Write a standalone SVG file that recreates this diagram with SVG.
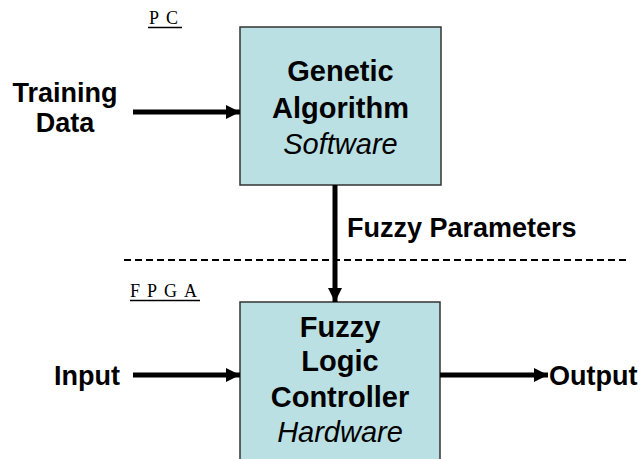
<svg xmlns="http://www.w3.org/2000/svg" width="642" height="459" viewBox="0 0 642 459">
  <style>
    .box { fill: #bbe0e3; stroke: #333333; stroke-width: 1.5; }
    .title { font-family: "Liberation Sans", Arial, sans-serif; font-size: 29px; font-weight: bold; fill: #000; text-anchor: middle; }
    .sub { font-family: "Liberation Sans", Arial, sans-serif; font-size: 29px; font-style: italic; fill: #000; text-anchor: middle; }
    .label { font-family: "Liberation Sans", Arial, sans-serif; font-size: 27px; font-weight: bold; fill: #000; }
    .zone { font-family: "Liberation Serif", "Times New Roman", serif; font-size: 18px; fill: #000; letter-spacing: 7px; }
    .wire { stroke: #000; stroke-width: 5; fill: none; }
    .divider { stroke: #000; stroke-width: 2; stroke-dasharray: 7 4; }
  </style>
  <defs>
    <marker id="head" markerUnits="userSpaceOnUse" markerWidth="16" markerHeight="16" refX="14" refY="8" orient="auto">
      <path d="M0,1 L14,8 L0,15 Z" fill="#000"/>
    </marker>
  </defs>

  <!-- zone labels and the boundary between them -->
  <g id="zones">
    <text class="zone" x="149" y="24">PC</text>
    <line x1="148" y1="27.5" x2="182" y2="27.5" stroke="#000" stroke-width="1.5"/>
    <line class="divider" x1="124" y1="260" x2="628" y2="260"/>
    <text class="zone" x="130" y="297">FPGA</text>
    <line x1="130" y1="300.5" x2="200" y2="300.5" stroke="#000" stroke-width="1.5"/>
  </g>

  <g id="ga">
    <rect class="box" x="240" y="27" width="201" height="158"/>
    <text class="title" x="340.5" y="81">Genetic</text>
    <text class="title" x="340.5" y="118">Algorithm</text>
    <text class="sub" x="340.5" y="154">Software</text>
  </g>

  <g id="flc">
    <rect class="box" x="240" y="302" width="200" height="170"/>
    <text class="title" x="340" y="337">Fuzzy</text>
    <text class="title" x="340" y="371">Logic</text>
    <text class="title" x="340" y="407">Controller</text>
    <text class="sub" x="340" y="442">Hardware</text>
  </g>

  <g id="training">
    <text class="label" x="65" y="102" text-anchor="middle">Training</text>
    <text class="label" x="65" y="132" text-anchor="middle">Data</text>
  </g>
  <g id="input">
    <text class="label" x="120" y="385" text-anchor="end">Input</text>
  </g>
  <g id="output">
    <text class="label" x="549" y="385">Output</text>
  </g>

  <g id="connectors">
    <line class="wire" x1="133" y1="112" x2="240" y2="112" marker-end="url(#head)"/>
    <line class="wire" x1="335" y1="185" x2="335" y2="302" marker-end="url(#head)"/>
    <text class="label" x="347" y="237">Fuzzy Parameters</text>
    <line class="wire" x1="133" y1="375" x2="240" y2="375" marker-end="url(#head)"/>
    <line class="wire" x1="440" y1="375" x2="548" y2="375" marker-end="url(#head)"/>
  </g>
</svg>
